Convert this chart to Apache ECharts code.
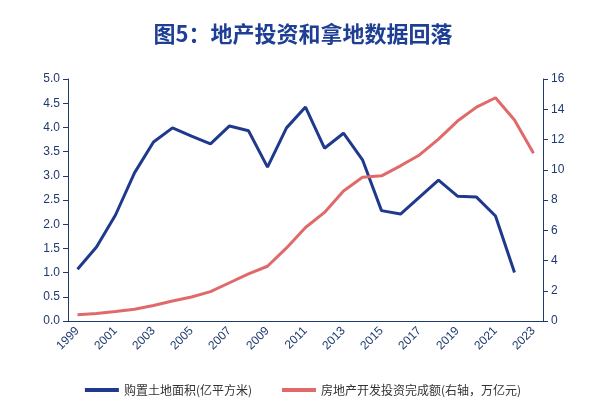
<!DOCTYPE html>
<html><head><meta charset="utf-8">
<script src="https://cdn.jsdelivr.net/npm/echarts@6/dist/echarts.min.js"></script>
<style>html,body{margin:0;padding:0;background:#fff}#c{width:606px;height:407px}</style>
</head><body><div id="c"></div>
<script>
var years = ['1999','2000','2001','2002','2003','2004','2005','2006','2007','2008','2009','2010','2011','2012','2013','2014','2015','2016','2017','2018','2019','2020','2021','2022','2023'];
// 购置土地面积(亿平方米)
var landArea = [1.07,1.53,2.19,3.06,3.70,3.99,3.82,3.66,4.03,3.93,3.18,3.99,4.42,3.57,3.88,3.33,2.28,2.21,2.56,2.91,2.58,2.56,2.17,1.0,null];
// 房地产开发投资完成额(万亿元)
var investment = [0.41,0.50,0.63,0.78,1.02,1.32,1.59,1.94,2.53,3.12,3.62,4.83,6.18,7.18,8.60,9.50,9.60,10.26,10.98,12.03,13.22,14.14,14.76,13.29,11.09];

var navy = '#1f3a8c', red = '#e06a6a', axisC = '#1f3a6e';
var chart = echarts.init(document.getElementById('c'));
chart.setOption({
  animation: false,
  title: {text: '图5：地产投资和拿地数据回落', left: 'center', top: 18,
    textStyle: {color: '#1f3f94', fontSize: 22, fontWeight: 'bold', fontFamily: 'Noto Sans CJK SC'}},
  legend: {bottom: 6, itemWidth: 34, itemHeight: 4, itemGap: 30,
    textStyle: {fontSize: 12, color: '#333', fontFamily: 'Noto Sans CJK SC'},
    data: [{name: '购置土地面积(亿平方米)', icon: 'rect'}, {name: '房地产开发投资完成额(右轴，万亿元)', icon: 'rect'}]},
  grid: {left: 68, right: 63, top: 79, bottom: 86},
  xAxis: {type: 'category', data: years, boundaryGap: true,
    axisLine: {lineStyle: {color: axisC}}, axisTick: {show: false},
    axisLabel: {interval: 1, rotate: 45, color: '#1f3a6e', fontSize: 12}},
  yAxis: [
    {type: 'value', min: 0, max: 5, interval: 0.5, splitLine: {show: false},
      axisLine: {show: true, lineStyle: {color: axisC}}, axisTick: {show: true, lineStyle: {color: axisC}},
      axisLabel: {color: '#1f3a6e', fontSize: 12, formatter: function (v) { return v.toFixed(1); }}},
    {type: 'value', min: 0, max: 16, interval: 2, splitLine: {show: false},
      axisLine: {show: true, lineStyle: {color: axisC}}, axisTick: {show: true, lineStyle: {color: axisC}},
      axisLabel: {color: '#1f3a6e', fontSize: 12}}
  ],
  series: [
    {name: '购置土地面积(亿平方米)', type: 'line', data: landArea, symbol: 'none',
      lineStyle: {color: navy, width: 3}, itemStyle: {color: navy}},
    {name: '房地产开发投资完成额(右轴，万亿元)', type: 'line', yAxisIndex: 1, data: investment, symbol: 'none',
      lineStyle: {color: red, width: 3}, itemStyle: {color: red}}
  ]
});
</script></body></html>
